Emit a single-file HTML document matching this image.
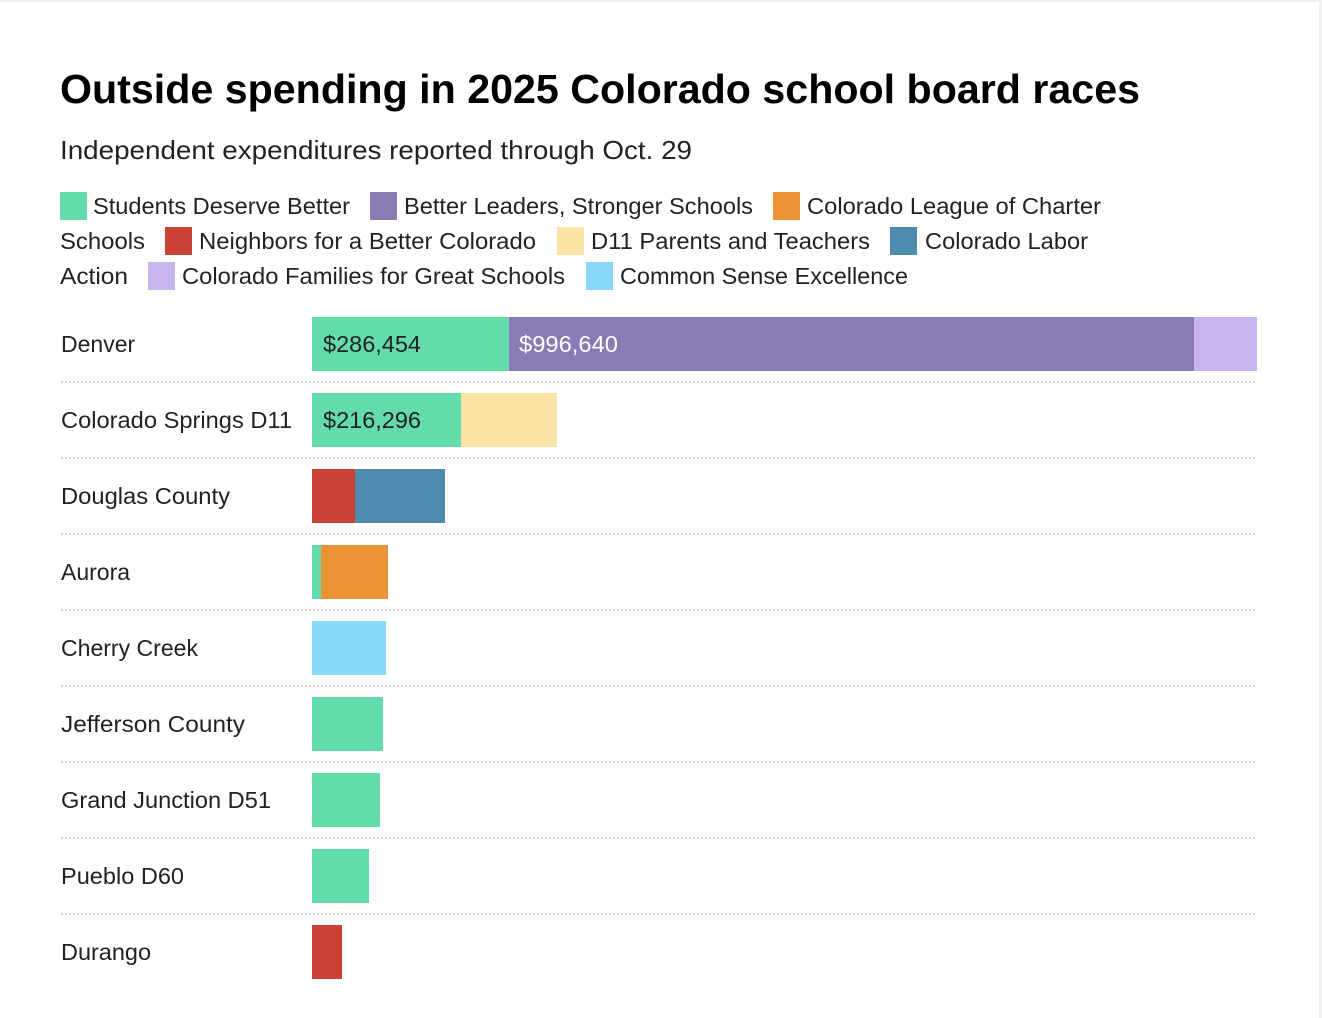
<!DOCTYPE html>
<html><head><meta charset="utf-8"><style>
html,body{margin:0;padding:0;background:#fff;}
svg{display:block;font-family:"Liberation Sans",Arial,sans-serif;}
</style></head><body>
<svg width="1322" height="1018" viewBox="0 0 1322 1018" xmlns="http://www.w3.org/2000/svg">
<rect x="0" y="0" width="1322" height="2" fill="#f0f0f0"/>
<rect x="1319" y="0" width="3" height="1018" fill="#f0f0f0"/>
<text x="60" y="103" font-size="41" font-weight="bold" fill="#000" textLength="1080" lengthAdjust="spacingAndGlyphs">Outside spending in 2025 Colorado school board races</text>
<text x="60" y="159" font-size="26" fill="#222" textLength="632" lengthAdjust="spacingAndGlyphs">Independent expenditures reported through Oct. 29</text>
<g font-size="23" fill="#222">
<rect x="60" y="192" width="27" height="28" fill="#63dbaa"/><text x="93" y="214" textLength="257" lengthAdjust="spacingAndGlyphs">Students Deserve Better</text>
<rect x="370" y="192" width="27" height="28" fill="#8a7bb4"/><text x="404" y="214" textLength="349" lengthAdjust="spacingAndGlyphs">Better Leaders, Stronger Schools</text>
<rect x="773" y="192" width="27" height="28" fill="#eb9336"/><text x="807" y="214" textLength="294" lengthAdjust="spacingAndGlyphs">Colorado League of Charter</text>
<text x="60" y="249" textLength="85" lengthAdjust="spacingAndGlyphs">Schools</text>
<rect x="165" y="227" width="27" height="28" fill="#c84235"/><text x="199" y="249" textLength="337" lengthAdjust="spacingAndGlyphs">Neighbors for a Better Colorado</text>
<rect x="557" y="227" width="27" height="28" fill="#f9e4a6"/><text x="591" y="249" textLength="279" lengthAdjust="spacingAndGlyphs">D11 Parents and Teachers</text>
<rect x="890" y="227" width="27" height="28" fill="#4e8caf"/><text x="925" y="249" textLength="163" lengthAdjust="spacingAndGlyphs">Colorado Labor</text>
<text x="60" y="284" textLength="68" lengthAdjust="spacingAndGlyphs">Action</text>
<rect x="148" y="262" width="27" height="28" fill="#c6b4ef"/><text x="182" y="284" textLength="383" lengthAdjust="spacingAndGlyphs">Colorado Families for Great Schools</text>
<rect x="586" y="262" width="27" height="28" fill="#8ad8f7"/><text x="620" y="284" textLength="288" lengthAdjust="spacingAndGlyphs">Common Sense Excellence</text>
</g>
<g stroke="#d6d6d6" stroke-width="2" stroke-dasharray="2,2">
<line x1="61" x2="1257" y1="382" y2="382"/>
<line x1="61" x2="1257" y1="458" y2="458"/>
<line x1="61" x2="1257" y1="534" y2="534"/>
<line x1="61" x2="1257" y1="610" y2="610"/>
<line x1="61" x2="1257" y1="686" y2="686"/>
<line x1="61" x2="1257" y1="762" y2="762"/>
<line x1="61" x2="1257" y1="838" y2="838"/>
<line x1="61" x2="1257" y1="914" y2="914"/>
</g>
<g font-size="23" fill="#222">
<text x="61" y="352">Denver</text>
<text x="61" y="428" textLength="231" lengthAdjust="spacingAndGlyphs">Colorado Springs D11</text>
<text x="61" y="504" textLength="169" lengthAdjust="spacingAndGlyphs">Douglas County</text>
<text x="61" y="580">Aurora</text>
<text x="61" y="656" textLength="137" lengthAdjust="spacingAndGlyphs">Cherry Creek</text>
<text x="61" y="732" textLength="184" lengthAdjust="spacingAndGlyphs">Jefferson County</text>
<text x="61" y="808" textLength="210" lengthAdjust="spacingAndGlyphs">Grand Junction D51</text>
<text x="61" y="884" textLength="123" lengthAdjust="spacingAndGlyphs">Pueblo D60</text>
<text x="61" y="960" textLength="90" lengthAdjust="spacingAndGlyphs">Durango</text>
</g>
<rect x="312" y="317" width="197" height="54" fill="#63dbaa"/>
<rect x="509" y="317" width="685" height="54" fill="#8a7bb4"/>
<rect x="1194" y="317" width="63" height="54" fill="#c6b4ef"/>
<rect x="312" y="393" width="149" height="54" fill="#63dbaa"/>
<rect x="461" y="393" width="96" height="54" fill="#f9e4a6"/>
<rect x="312" y="469" width="43" height="54" fill="#c84235"/>
<rect x="355" y="469" width="90" height="54" fill="#4e8caf"/>
<rect x="312" y="545" width="9" height="54" fill="#63dbaa"/>
<rect x="321" y="545" width="67" height="54" fill="#eb9336"/>
<rect x="312" y="621" width="74" height="54" fill="#8ad8f7"/>
<rect x="312" y="697" width="71" height="54" fill="#63dbaa"/>
<rect x="312" y="773" width="68" height="54" fill="#63dbaa"/>
<rect x="312" y="849" width="57" height="54" fill="#63dbaa"/>
<rect x="312" y="925" width="30" height="54" fill="#c84235"/>
<g font-size="23">
<text x="323" y="352" fill="#222" textLength="98" lengthAdjust="spacingAndGlyphs">$286,454</text>
<text x="519" y="352" fill="#fff" textLength="99" lengthAdjust="spacingAndGlyphs">$996,640</text>
<text x="323" y="428" fill="#222" textLength="98" lengthAdjust="spacingAndGlyphs">$216,296</text>
</g>
</svg>
</body></html>
